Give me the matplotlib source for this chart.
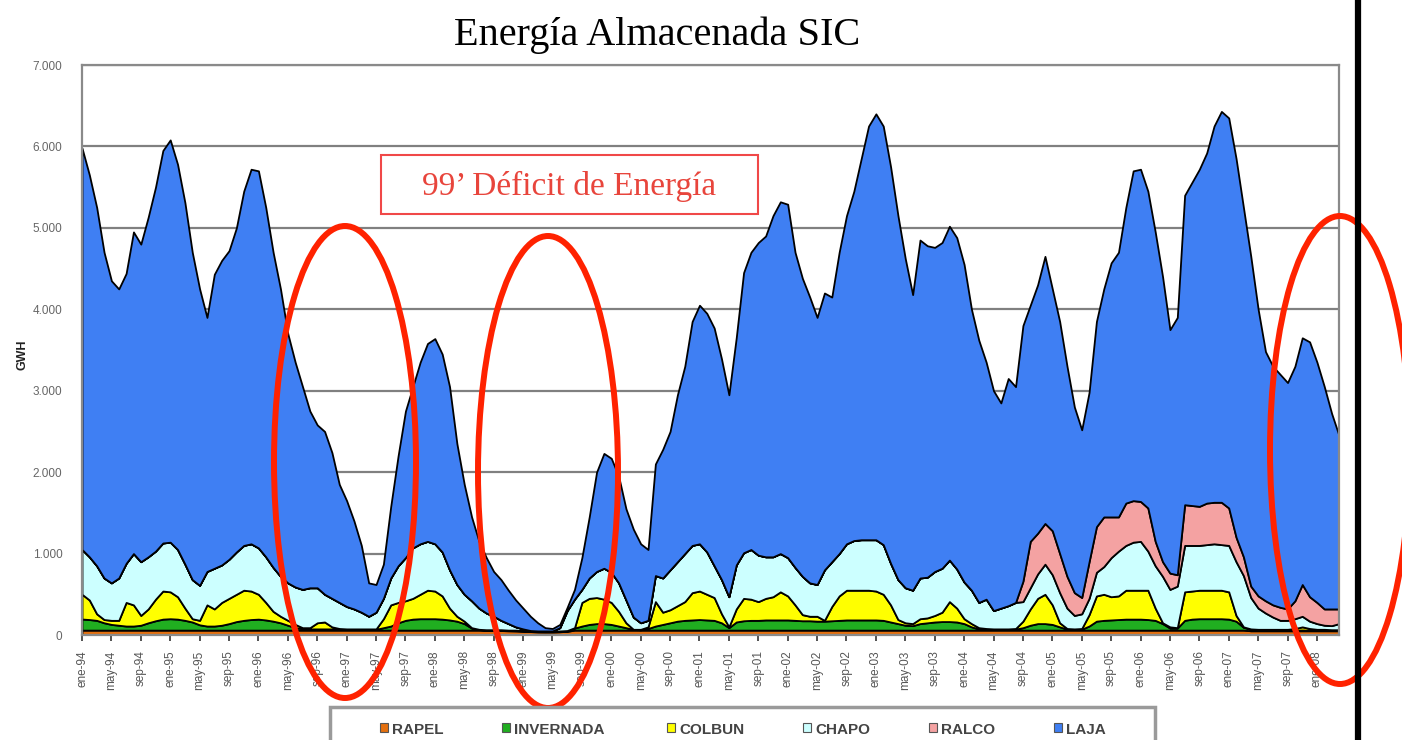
import numpy as np
import matplotlib.pyplot as plt
from matplotlib.patches import Ellipse, Rectangle
from matplotlib.lines import Line2D

plt.rcParams['font.family'] = ['Liberation Sans', 'DejaVu Sans']

# energia embalsada mensual (GWh), ene-94 .. abr-08
rapel = [
    60, 60, 60, 60, 60, 60, 60, 60, 60, 60, 60, 60,
    60, 60, 60, 60, 60, 60, 60, 60, 60, 60, 60, 60,
    60, 60, 60, 60, 60, 60, 60, 60, 60, 60, 60, 60,
    60, 60, 60, 60, 60, 60, 60, 60, 60, 60, 60, 60,
    60, 60, 60, 60, 60, 60, 60, 55, 55, 55, 52, 50,
    46, 42, 38, 37, 37, 40, 45, 60, 60, 60, 60, 60,
    60, 60, 60, 60, 60, 60, 60, 60, 60, 60, 60, 60,
    60, 60, 60, 60, 60, 60, 60, 60, 60, 60, 60, 60,
    60, 60, 60, 60, 60, 60, 60, 60, 60, 60, 60, 60,
    60, 60, 60, 60, 60, 60, 60, 60, 60, 60, 60, 60,
    60, 60, 60, 60, 60, 60, 60, 60, 60, 60, 60, 60,
    60, 60, 60, 60, 60, 60, 60, 60, 60, 60, 60, 60,
    60, 60, 60, 60, 60, 60, 60, 60, 60, 60, 60, 60,
    60, 60, 60, 52, 52, 52, 52, 52, 52, 52, 52, 52,
    52, 52, 52, 52]
invernada = [
    136, 130, 120, 90, 70, 60, 50, 50, 60, 90, 115, 135,
    140, 135, 120, 100, 65, 50, 50, 60, 80, 105, 120, 130,
    135, 125, 110, 90, 60, 30, 20, 15, 15, 15, 15, 10,
    10, 10, 10, 10, 10, 30, 50, 90, 120, 135, 140, 140,
    140, 135, 125, 110, 80, 25, 8, 7, 5, 5, 6, 5,
    6, 6, 6, 5, 5, 5, 5, 25, 50, 70, 80, 80,
    70, 50, 30, 8, 5, 20, 50, 70, 90, 110, 120, 125,
    130, 125, 120, 90, 30, 100, 115, 120, 120, 125, 125, 125,
    125, 120, 115, 115, 110, 110, 115, 120, 125, 125, 125, 125,
    125, 120, 100, 80, 60, 55, 80, 90, 100, 105, 105, 100,
    80, 40, 15, 12, 10, 10, 10, 12, 30, 60, 80, 80,
    70, 40, 12, 10, 12, 50, 110, 120, 125, 130, 135, 135,
    135, 130, 120, 80, 25, 25, 120, 135, 140, 140, 140, 140,
    135, 110, 35, 18, 13, 10, 10, 8, 8, 8, 10, 8,
    6, 6, 3, 3]
colbun = [
    304, 240, 80, 40, 50, 60, 290, 260, 120, 170, 265, 345,
    330, 275, 150, 40, 55, 260, 210, 280, 310, 335, 370, 350,
    305, 215, 120, 80, 60, 40, 10, 15, 75, 85, 25, 10,
    5, 5, 5, 5, 5, 110, 260, 250, 240, 255, 300, 350,
    340, 285, 145, 60, 30, 5, 2, 3, 5, 5, 2, 5,
    3, 2, 1, 3, 3, 5, 5, 5, 290, 320, 320, 300,
    270, 180, 60, 2, 5, 20, 300, 150, 160, 190, 230, 335,
    350, 315, 280, 110, 10, 160, 275, 260, 230, 265, 285, 345,
    295, 190, 75, 55, 60, 10, 175, 300, 365, 365, 365, 365,
    355, 320, 210, 50, 30, 25, 60, 60, 80, 115, 245, 170,
    60, 40, 15, 8, 5, 5, 5, 8, 80, 200, 310, 360,
    240, 50, 8, 5, 8, 140, 310, 320, 285, 290, 355, 355,
    355, 360, 150, 10, 15, 5, 350, 345, 350, 350, 350, 350,
    335, 70, 5, 5, 5, 8, 8, 10, 10, 20, 38, 20,
    12, 12, 10, 10]
chapo = [
    550, 530, 590, 510, 460, 520, 480, 630, 660, 640, 590, 590,
    610, 580, 540, 480, 430, 410, 500, 460, 480, 520, 550, 580,
    570, 560, 540, 490, 460, 460, 470, 490, 430, 340, 350, 320,
    275, 245, 205, 155, 205, 250, 330, 450, 530, 620, 620, 600,
    580, 540, 470, 390, 330, 330, 260, 205, 165, 115, 80, 40,
    20, 5, 5, 5, 5, 40, 245, 350, 160, 250, 320, 380,
    370, 350, 280, 150, 80, 80, 320, 420, 490, 540, 590, 580,
    580, 520, 390, 420, 370, 540, 560, 610, 570, 510, 490, 470,
    470, 460, 470, 410, 390, 620, 550, 520, 570, 610, 620, 620,
    630, 610, 510, 490, 430, 410, 500, 500, 540, 540, 510, 480,
    450, 410, 310, 360, 225, 255, 285, 320, 240, 260, 300, 370,
    370, 370, 250, 165, 180, 200, 290, 340, 480, 550, 550, 590,
    600, 480, 520, 570, 460, 510, 570, 560, 550, 560, 570, 560,
    570, 660, 630, 385, 260, 200, 150, 110, 110, 120, 130, 90,
    70, 50, 50, 75]
ralco = [
    0, 0, 0, 0, 0, 0, 0, 0, 0, 0, 0, 0,
    0, 0, 0, 0, 0, 0, 0, 0, 0, 0, 0, 0,
    0, 0, 0, 0, 0, 0, 0, 0, 0, 0, 0, 0,
    0, 0, 0, 0, 0, 0, 0, 0, 0, 0, 0, 0,
    0, 0, 0, 0, 0, 0, 0, 0, 0, 0, 0, 0,
    0, 0, 0, 0, 0, 0, 0, 0, 0, 0, 0, 0,
    0, 0, 0, 0, 0, 0, 0, 0, 0, 0, 0, 0,
    0, 0, 0, 0, 0, 0, 0, 0, 0, 0, 0, 0,
    0, 0, 0, 0, 0, 0, 0, 0, 0, 0, 0, 0,
    0, 0, 0, 0, 0, 0, 0, 0, 0, 0, 0, 0,
    0, 0, 0, 0, 0, 0, 0, 0, 250, 570, 500, 500,
    540, 480, 390, 280, 200, 450, 560, 610, 500, 420, 520, 510,
    490, 530, 300, 180, 200, 140, 500, 490, 480, 510, 510, 520,
    460, 300, 230, 140, 150, 150, 150, 160, 140, 220, 390, 300,
    260, 200, 205, 180]
laja = [
    4930, 4690, 4400, 4000, 3710, 3550, 3560, 3950, 3900, 4170, 4470, 4820,
    4940, 4730, 4440, 4020, 3640, 3120, 3610, 3740, 3790, 3980, 4350, 4600,
    4630, 4290, 3870, 3530, 3060, 2760, 2490, 2170, 2000, 2000, 1790, 1450,
    1300, 1080, 820, 410, 340, 420, 880, 1350, 1800, 1980, 2230, 2430,
    2520, 2430, 2250, 1730, 1350, 1030, 820, 680, 550, 500, 410, 330,
    255, 175, 100, 40, 30, 40, 40, 120, 390, 750, 1220, 1410,
    1400, 1310, 1120, 1080, 970, 870, 1370, 1580, 1700, 2050, 2300, 2750,
    2930, 2930, 2920, 2710, 2480, 2790, 3440, 3650, 3840, 3940, 4190, 4320,
    4340, 3870, 3660, 3510, 3280, 3400, 3250, 3700, 4030, 4290, 4680, 5080,
    5230, 5140, 4870, 4470, 4040, 3630, 4150, 4070, 3980, 4000, 4100, 4070,
    3900, 3450, 3220, 2910, 2700, 2520, 2790, 2650, 3140, 2900, 3050, 3280,
    2970, 2850, 2580, 2280, 2060, 2080, 2520, 2800, 3120, 3250, 3630, 4050,
    4080, 3890, 3800, 3500, 2990, 3160, 3800, 3970, 4140, 4300, 4620, 4800,
    4790, 4650, 4290, 4050, 3520, 3060, 2930, 2860, 2780, 2880, 3030, 3130,
    2950, 2730, 2400, 2130]

nombres = ['RAPEL', 'INVERNADA', 'COLBUN', 'CHAPO', 'RALCO', 'LAJA']
colores = ['#E4700F', '#20AE20', '#FFFF00', '#CCFFFF', '#F4A2A2', '#3F7FF3']

anios = range(1994, 2008)
meses = ['ene', 'may', 'sep']
etiquetas = [f'{m}-{a % 100:02d}' for a in anios for m in meses] + ['ene-08']

W, H = 1402, 740
fig = plt.figure(figsize=(W / 100, H / 100), dpi=100)
ax = fig.add_axes([82 / W, 1 - 635 / H, (1339 - 82) / W, (635 - 65) / H])

x = np.arange(len(laja))
ax.stackplot(x, rapel, invernada, colbun, chapo, ralco, laja,
             colors=colores, edgecolor='black', linewidth=1.3)

ax.set_xlim(0, len(laja) - 1)
ax.set_ylim(0, 7000)
ax.set_yticks(range(0, 7001, 1000))
ax.set_yticklabels(['0'] + [f'{v // 1000}.000' for v in range(1000, 7001, 1000)])
ax.set_xticks(range(0, 4 * len(etiquetas), 4))
ax.set_xticklabels(etiquetas, rotation=90)
ax.tick_params(axis='y', length=0, pad=14, labelsize=8.5, labelcolor='#666666')
ax.tick_params(axis='x', length=4, width=1.2, color='#333333', pad=7,
               labelsize=8.5, labelcolor='#555555')
ax.yaxis.grid(True, color='#808080', lw=1.6)
ax.set_axisbelow(True)
for s in ax.spines.values():
    s.set_color('#8a8a8a')
    s.set_linewidth(1.6)

fig.text(0.469, 0.953, 'Energía Almacenada SIC', family='Liberation Serif',
         fontsize=29, ha='center', va='center')
fig.text(22 / W, 1 - 355 / H, 'GWH', rotation=90, fontsize=9, weight='bold',
         ha='center', va='center', color='#222222')

# recuadro del deficit
fig.add_artist(Rectangle((381 / W, 1 - 214 / H), 377 / W, 59 / H,
                         transform=fig.transFigure, facecolor='white',
                         edgecolor='#F04848', lw=1.5))
fig.text(569 / W, 1 - 186 / H, '99’ Déficit de Energía', family='Liberation Serif',
         fontsize=24, color='#E8453C', ha='center', va='center')

# elipses rojas
for cx, cy, w, h in [(345, 462, 142, 472), (548, 472, 140, 472), (1340, 450, 140, 468)]:
    fig.add_artist(Ellipse((cx / W, 1 - cy / H), w / W, h / H, transform=fig.transFigure,
                           fill=False, edgecolor='#FF2200', lw=4.3))

fig.add_artist(Line2D([1358 / W, 1358 / W], [0, 1], transform=fig.transFigure,
                      color='black', lw=4.5))

# leyenda (cortada abajo)
fig.add_artist(Rectangle((330 / W, -0.05), 825 / W, 0.05 + 1 - 707 / H,
                         transform=fig.transFigure, facecolor='white',
                         edgecolor='#9a9a9a', lw=2.5))
cuadros = [380, 502, 667, 803, 929, 1054]
for xc, nombre, color in zip(cuadros, nombres, colores):
    fig.add_artist(Rectangle((xc / W, 1 - 732 / H), 8 / W, 9 / H, transform=fig.transFigure,
                             facecolor=color, edgecolor='#555555', lw=0.8))
    fig.text((xc + 12) / W, 1 - 730 / H, nombre, fontsize=11, weight='bold',
             color='#444444', ha='left', va='center')

fig.savefig('out.png', dpi=100)
